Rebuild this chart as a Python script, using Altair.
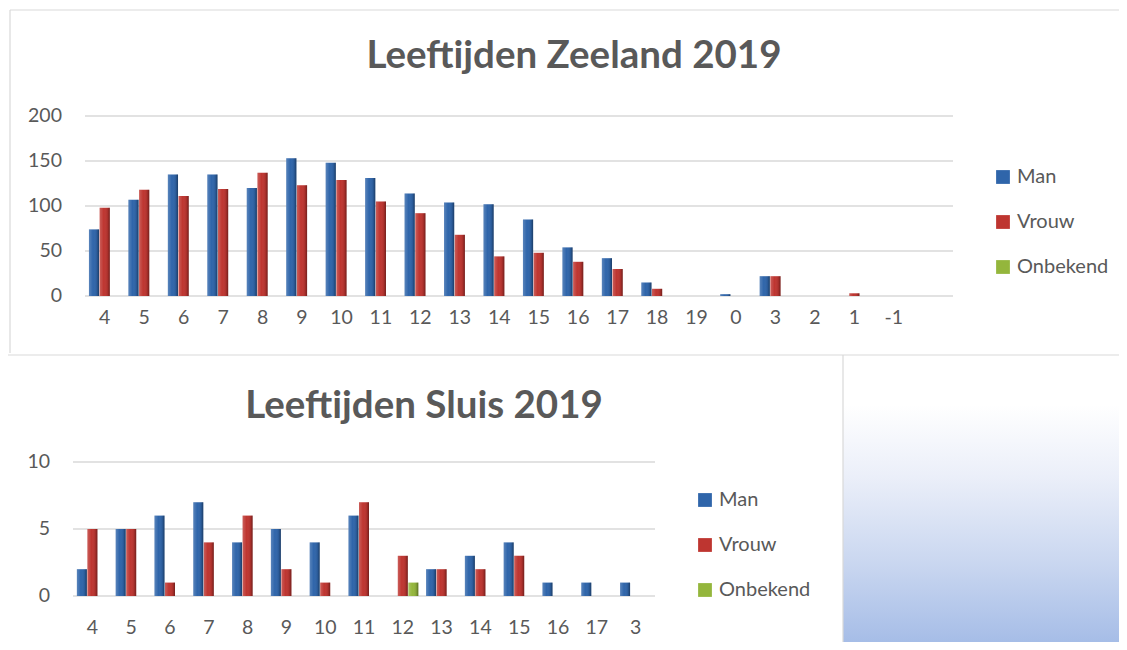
import altair as alt
import pandas as pd

# ---------------- data ----------------
series = ["Man", "Vrouw", "Onbekend"]
series_colors = ["#2F65AA", "#BE3530", "#94B63C"]

zeeland_ages = ["4", "5", "6", "7", "8", "9", "10", "11", "12", "13", "14",
                "15", "16", "17", "18", "19", "0", "3", "2", "1", "-1", " "]
zeeland_man = [74, 107, 135, 135, 120, 153, 148, 131, 114, 104, 102,
               85, 54, 42, 15, 0, 2, 22, 0, 0, 0, 0]
zeeland_vrouw = [98, 118, 111, 119, 137, 123, 129, 105, 92, 68, 44,
                 48, 38, 30, 8, 0, 0, 22, 0, 3, 0, 0]
zeeland_onbekend = [0, 0, 0, 0, 0, 0, 0, 0, 0, 0, 0,
                    0, 0, 0, 0, 0, 0, 0, 0, 0, 0, 0]
zeeland_ticks = [0, 50, 100, 150, 200]
zeeland_title = "Leeftijden Zeeland 2019"

sluis_ages = ["4", "5", "6", "7", "8", "9", "10", "11", "12", "13", "14",
              "15", "16", "17", "3"]
sluis_man = [2, 5, 6, 7, 4, 5, 4, 6, 0, 2, 3, 4, 1, 1, 1]
sluis_vrouw = [5, 5, 1, 4, 6, 2, 1, 7, 3, 2, 2, 3, 0, 0, 0]
sluis_onbekend = [0, 0, 0, 0, 0, 0, 0, 0, 1, 0, 0, 0, 0, 0, 0]
sluis_ticks = [0, 5, 10]
sluis_title = "Leeftijden Sluis 2019"

FONT = "Lato"
TXT = "#595959"
GRID = "#D9D9D9"
W, H = 1111, 634


def long_df(ages, man, vrouw, onb):
    rows = []
    for i, a in enumerate(ages):
        for s, vals in zip(series, (man, vrouw, onb)):
            rows.append({"leeftijd": a, "geslacht": s, "aantal": vals[i]})
    return pd.DataFrame(rows)


shade = alt.LinearGradient(
    gradient="linear", x1=0, x2=1, y1=0, y2=0,
    stops=[
        alt.GradientStop(color="rgba(255,255,255,0.20)", offset=0),
        alt.GradientStop(color="rgba(255,255,255,0.0)", offset=0.4),
        alt.GradientStop(color="rgba(0,0,0,0.10)", offset=0.78),
        alt.GradientStop(color="rgba(0,0,0,0.40)", offset=1),
    ],
)


def panel(ages, man, vrouw, onb, ticks, title, x_range, y_range, y_domain,
          ylab_x, xlab_y, title_xy, legend_xy):
    df = long_df(ages, man, vrouw, onb)
    tdf = pd.DataFrame({"v": ticks, "lab": [str(t) for t in ticks]})
    adf = pd.DataFrame({"leeftijd": ages})
    ttl = pd.DataFrame({"t": [title]})

    xs = alt.Scale(domain=ages, range=x_range, paddingInner=0.2, paddingOuter=0.1)
    ys = alt.Scale(domain=y_domain, range=y_range)
    xo = alt.Scale(domain=series, paddingInner=0.05)

    X = alt.X("leeftijd:N", scale=xs, axis=None, sort=ages)
    XO = alt.XOffset("geslacht:N", scale=xo, sort=series)
    Y = alt.Y("aantal:Q", scale=ys, axis=None)

    grid = alt.Chart(tdf).mark_rule(color=GRID, strokeWidth=1.6).encode(
        y=alt.Y("v:Q", scale=ys, axis=None),
        x=alt.value(x_range[0]), x2=alt.value(x_range[1]),
    )
    ylab = alt.Chart(tdf).mark_text(
        align="right", baseline="middle", font=FONT, fontSize=19.5, color=TXT
    ).encode(y=alt.Y("v:Q", scale=ys, axis=None), x=alt.value(ylab_x), text="lab:N")

    bars = alt.Chart(df).mark_bar().encode(
        x=X, xOffset=XO, y=Y,
        color=alt.Color(
            "geslacht:N", sort=series,
            scale=alt.Scale(domain=series, range=series_colors),
            legend=alt.Legend(
                orient="none", legendX=legend_xy[0], legendY=legend_xy[1],
                title=None, symbolType="square", symbolSize=190,
                symbolStrokeWidth=0, labelFont=FONT, labelFontSize=20,
                labelColor=TXT, rowPadding=25, labelOffset=4, padding=0,
            ),
        ),
    )
    bar_shade = alt.Chart(df).mark_bar(color=shade).encode(x=X, xOffset=XO, y=Y)

    xlab = alt.Chart(adf).mark_text(
        align="center", baseline="middle", font=FONT, fontSize=19.5, color=TXT
    ).encode(x=X, y=alt.value(xlab_y), text="leeftijd:N")

    tmark = alt.Chart(ttl).mark_text(
        align="center", baseline="middle", font=FONT, fontSize=38.5,
        fontWeight="bold", color=TXT
    ).encode(x=alt.value(title_xy[0]), y=alt.value(title_xy[1]), text="t:N")

    return alt.layer(grid, bars, bar_shade, xlab, ylab, tmark)


top = panel(zeeland_ages, zeeland_man, zeeland_vrouw, zeeland_onbekend,
            zeeland_ticks, zeeland_title,
            x_range=[77, 945], y_range=[288, 108], y_domain=[0, 200],
            ylab_x=54, xlab_y=310, title_xy=(566, 48), legend_xy=(985, 159))

bottom = panel(sluis_ages, sluis_man, sluis_vrouw, sluis_onbekend,
               sluis_ticks, sluis_title,
               x_range=[65, 647], y_range=[588, 454], y_domain=[0, 10],
               ylab_x=42, xlab_y=620, title_xy=(416, 398), legend_xy=(687, 482))

# ---------------- decorations ----------------
dummy = pd.DataFrame({"d": [0]})
bg_grad = alt.LinearGradient(
    gradient="linear", x1=0, x2=0, y1=0, y2=1,
    stops=[
        alt.GradientStop(color="#FFFFFF", offset=0),
        alt.GradientStop(color="#FFFFFF", offset=0.17),
        alt.GradientStop(color="#EBEFF9", offset=0.42),
        alt.GradientStop(color="#CAD7F0", offset=0.72),
        alt.GradientStop(color="#A6BDE7", offset=1),
    ],
)
grad_rect = alt.Chart(dummy).mark_rect(color=bg_grad).encode(
    x=alt.value(835), x2=alt.value(W), y=alt.value(348), y2=alt.value(H)
)
b_top = alt.Chart(dummy).mark_rule(color=GRID, strokeWidth=1.2).encode(
    x=alt.value(2), x2=alt.value(W), y=alt.value(2))
b_left = alt.Chart(dummy).mark_rule(color=GRID, strokeWidth=1.2).encode(
    x=alt.value(2), y=alt.value(2), y2=alt.value(345))
b_mid = alt.Chart(dummy).mark_rule(color=GRID, strokeWidth=1.2).encode(
    x=alt.value(0), x2=alt.value(W), y=alt.value(347))
b_right = alt.Chart(dummy).mark_rule(color=GRID, strokeWidth=1.2).encode(
    x=alt.value(835), y=alt.value(347), y2=alt.value(H))
deco = alt.layer(grad_rect, b_top, b_left, b_mid, b_right)

chart = alt.layer(deco, top, bottom).resolve_scale(
    x="independent", y="independent", color="independent", xOffset="independent"
).properties(
    width=W, height=H, padding=0, autosize=alt.AutoSizeParams(type="none")
).configure_view(stroke=None)

chart.save("out.html", embed_options={"renderer": "svg", "actions": False})
